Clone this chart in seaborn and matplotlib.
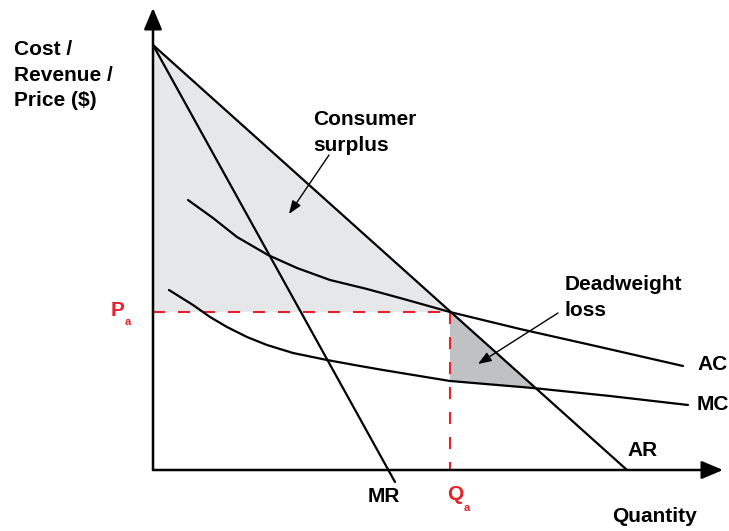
import matplotlib
matplotlib.use("Agg")
import matplotlib.pyplot as plt
import seaborn as sns

# Diagram units: quantity (x) and price (y), origin at the axes corner
ar_q = [0, 474]
ar_p = [425, 0]
mr_q = [0, 242]
mr_p = [425, -12]
ac_q = [35, 60, 84, 115, 144, 177, 214, 247, 297, 367, 447, 530]
ac_p = [270, 252, 233, 215, 202, 190, 181, 172, 158, 141, 123, 104]
mc_q = [16, 40, 57, 74, 94, 114, 140, 174, 207, 230, 297, 380, 457, 535]
mc_p = [180, 165, 153, 143, 133, 125, 117, 110, 104, 100, 89, 82, 74, 65]
pa = 158
qa = 297
dwl_q = [297, 382, 297]
dwl_p = [158, 82, 89]

sns.set_style("white")
plt.rcParams["font.family"] = ["Liberation Sans", "DejaVu Sans"]
plt.rcParams["font.weight"] = "bold"
plt.rcParams["text.color"] = "black"

fig = plt.figure(figsize=(7.29, 5.31), dpi=100)
ax = fig.add_axes([0, 0, 1, 1])
ax.set_xlim(-153, 576)
ax.set_ylim(-61, 470)
ax.axis("off")

red = "#e8202a"
fs = 15

# Shaded areas
ax.fill([0, 0, qa], [ar_p[0], pa, pa], color="#e6e7e9", lw=0, zorder=1)
ax.fill(dwl_q, dwl_p, color="#c0c1c3", lw=0, zorder=1)

# Curves
for q, p in [(ar_q, ar_p), (mr_q, mr_p), (ac_q, ac_p), (mc_q, mc_p)]:
    sns.lineplot(x=q, y=p, ax=ax, color="black", lw=1.6, zorder=3)

# Dashed guides at Pa / Qa
ax.plot([0, qa], [pa, pa], color=red, lw=1.5, ls=(0, (5.8, 6.2)), zorder=2)
ax.plot([qa, qa], [pa, 0], color=red, lw=1.5, ls=(0, (5.8, 6.2)), zorder=2)

# Axes with arrow heads
big = dict(arrowstyle="-|>,head_length=1.3,head_width=0.55", color="black",
           lw=1.8, shrinkA=0, shrinkB=0, mutation_scale=10)
ax.annotate("", xy=(0, 462), xytext=(0, 0), arrowprops=big, zorder=4)
ax.annotate("", xy=(570, 0), xytext=(0, 0), arrowprops=big, zorder=4)

# Labels
ax.text(-139, 430, "Cost /\nRevenue /\nPrice ($)", fontsize=fs, va="top",
        ha="left", linespacing=1.45)
ax.text(459, -47, "Quantity", fontsize=fs, va="center", ha="left")
ax.text(544, 105, "AC", fontsize=fs, va="center", ha="left")
ax.text(544, 65, "MC", fontsize=fs, va="center", ha="left")
ax.text(474, 19, "AR", fontsize=fs, va="center", ha="left")
ax.text(215, -26, "MR", fontsize=fs, va="center", ha="left")
ax.text(294, -25, "Q", fontsize=fs, va="center", ha="left", color=red)
ax.text(311, -38, "a", fontsize=8, va="center", ha="left", color=red)
ax.text(-42, 160, "P", fontsize=fs, va="center", ha="left", color=red)
ax.text(-28, 148, "a", fontsize=8, va="center", ha="left", color=red)

small = dict(arrowstyle="-|>,head_length=0.8,head_width=0.3", color="black",
             lw=1.0, shrinkA=0, shrinkB=0, mutation_scale=10)
ax.text(160, 360, "Consumer\nsurplus", fontsize=fs, va="top", ha="left",
        linespacing=1.45)
ax.annotate("", xy=(136, 256), xytext=(176, 315), arrowprops=small, zorder=4)
ax.text(412, 195, "Deadweight\nloss", fontsize=fs, va="top", ha="left",
        linespacing=1.45)
ax.annotate("", xy=(325, 106), xytext=(405, 157), arrowprops=small, zorder=4)

plt.savefig("out.png", dpi=100)
